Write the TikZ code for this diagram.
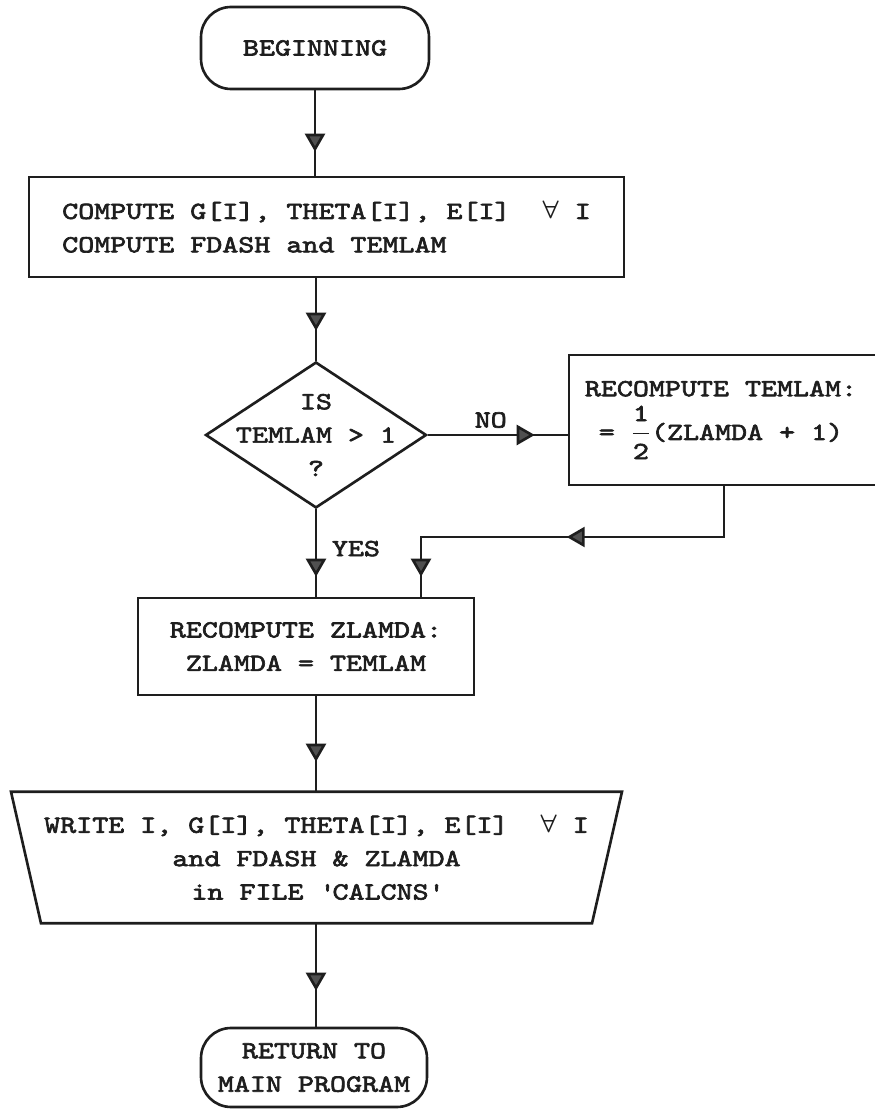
\documentclass[tikz,border=0pt]{standalone}
\usepackage{fontspec}
\newfontfamily\flowfont{lmmono10-regular.otf}[FakeStretch=1.24,FakeBold=2.6]
\usetikzlibrary{arrows.meta,calc,shapes.geometric,decorations.markings}
\definecolor{inkgray}{HTML}{505050}
\definecolor{inkblack}{HTML}{1E1E1E}
\newcommand{\flowtip}{\arrow{Triangle[length=0.36cm,width=0.4cm,fill=inkgray]}}

\begin{document}
\begin{tikzpicture}[x=0.02cm,y=0.02cm,line width=1.5pt,color=inkblack,
  font=\fontsize{14}{19}\selectfont\flowfont\boldmath,
  box/.style={draw,align=center,inner sep=0pt},
  term/.style={box,rounded corners=0.6cm},
  flow/.style={decoration={markings,mark=at position #1 with {\flowtip}},postaction={decorate}},
  flow/.default=-0.6cm]
  \useasboundingbox (0,0) rectangle (875,1110);
  \node[term,minimum width=4.56cm,minimum height=1.64cm] (begin) at (315,1062) {BEGINNING};
  \node[box,align=left,minimum width=11.9cm,minimum height=2cm] (comp) at (326.5,883)
    {COMPUTE G[I], THETA[I], E[I]\ \ $\forall$ I\\COMPUTE FDASH and TEMLAM};
  \node[diamond,draw,inner sep=0pt,minimum width=4.42cm,minimum height=2.92cm] (isgt) at (316,675) {};
  \node[align=center] (isgttext) at (isgt.center) {IS\\TEMLAM > 1\\?};
  \node[box,minimum width=6.62cm,minimum height=2.6cm] (retem) at (734.5,690) {};
  \node[align=center] (retemtext) at (721,690)
    {RECOMPUTE TEMLAM:\\[0.15cm]= $\displaystyle\frac{\mbox{1}}{\mbox{2}}$(ZLAMDA + 1)};
  \node[box,minimum width=6.72cm,minimum height=1.94cm] (rezl) at (306,463.5)
    {RECOMPUTE ZLAMDA:\\ZLAMDA = TEMLAM};
  \node[align=center,inner sep=0pt,minimum width=11.57cm,minimum height=2.58cm] (wrt) at (316.5,252.5)
    {WRITE I, G[I], THETA[I], E[I]\ \ $\forall$ I\\and FDASH \& ZLAMDA\\in FILE \textquotesingle CALCNS\textquotesingle};
  \draw ($(wrt.north west)+(-15,0)$) -- ($(wrt.north east)+(15,0)$)
    -- ($(wrt.south east)+(-15,0)$) -- ($(wrt.south west)+(15,0)$) -- cycle;
  \node[term,minimum width=4.52cm,minimum height=1.58cm] (ret) at (314,42.5) {RETURN TO\\MAIN PROGRAM};
  % connectors
  \draw[flow=-0.48cm] (begin.south) -- (begin.south |- comp.north);
  \draw[flow] (isgt.north |- comp.south) -- (isgt.north);
  \draw[flow=-0.66cm] (isgt.east) -- node[above,pos=0.45] {NO} (isgt.east -| retem.west);
  \draw[flow=-0.4cm] (isgt.south) -- node[right=5pt,pos=0.45] {YES} (isgt.south |- rezl.north);
  \coordinate (bend1) at (724,573);
  \coordinate (bend2) at (421,573);
  \draw[decoration={markings,mark=at position 4.16cm with {\flowtip},mark=at position -0.4cm with {\flowtip}},
    postaction={decorate}] (bend1 |- retem.south) -- (bend1) -- (bend2) -- (bend2 |- rezl.north);
  \draw[flow] (isgt.south |- rezl.south) -- (isgt.south |- wrt.north);
  \draw[flow=-0.72cm] (isgt.south |- wrt.south) -- (isgt.south |- ret.north);
\end{tikzpicture}
\end{document}
